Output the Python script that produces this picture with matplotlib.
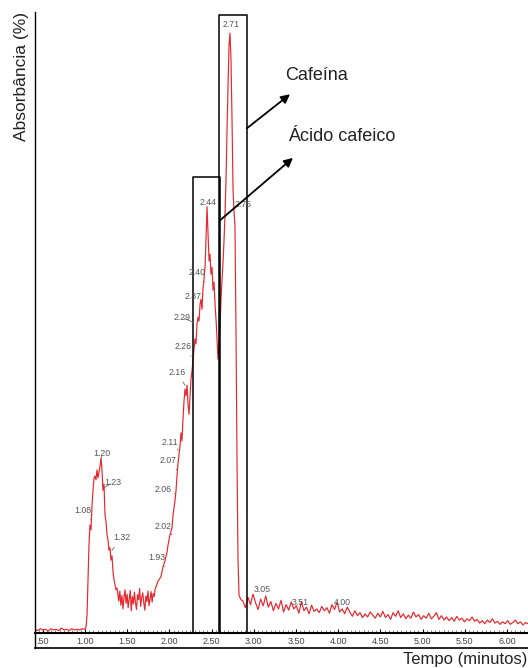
# chromatogram: absorbance vs retention time, with caffeine / caffeic acid boxes
import numpy as np
import matplotlib.pyplot as plt
from matplotlib.ticker import MultipleLocator

plt.rcParams['font.family'] = ['Liberation Sans', 'DejaVu Sans']

# %% data (time in minutes, absorbance in %)
# flat baseline before injection front
t_base = np.linspace(0.41, 1.00, 20)
v_base = [0.6, 0.4, 0.7, 0.5, 0.6, 0.3, 0.7, 0.5, 0.6, 0.4,
          0.8, 0.5, 0.6, 0.4, 0.7, 0.5, 0.6, 0.5, 0.7, 0.6]

# first hump (1.08 - 1.32)
t_hump = [1.012, 1.024, 1.036, 1.047, 1.059, 1.071, 1.083, 1.095, 1.107, 1.118,
          1.130, 1.142, 1.154, 1.166, 1.178, 1.190, 1.201, 1.213, 1.225, 1.237,
          1.249, 1.261, 1.273, 1.284, 1.296, 1.308, 1.320, 1.332, 1.344, 1.355,
          1.367, 1.379, 1.391]
v_hump = [1.0, 2.9, 8.6, 14.2, 17.5, 16.7, 20.7, 23.1, 25.1, 25.4,
          24.8, 26.4, 25.1, 26.1, 27.0, 28.3, 26.4, 23.1, 24.1, 19.1,
          18.0, 15.9, 15.0, 13.4, 13.8, 11.8, 12.5, 9.9, 8.6, 7.8,
          7.0, 7.3, 6.1]

# noisy valley between the two groups
t_valley = np.linspace(1.40, 1.82, 35)
v_valley = [5.2, 6.8, 4.5, 6.1, 3.9, 5.7, 7.0, 4.8, 6.3, 4.1,
            5.5, 6.9, 3.6, 5.9, 4.7, 6.6, 5.0, 3.8, 6.2, 5.4,
            7.2, 4.3, 5.8, 6.5, 4.9, 3.7, 6.0, 5.1, 6.8, 4.4,
            5.6, 6.7, 5.0, 6.4, 5.9]

# main group: rise, caffeic acid (2.44) and caffeine (2.71)
t_main = [1.829, 1.865, 1.900, 1.924, 1.948, 1.972, 1.983, 2.007, 2.031, 2.043,
          2.066, 2.078, 2.090, 2.102, 2.126, 2.137, 2.149, 2.161, 2.173, 2.185,
          2.197, 2.209, 2.220, 2.232, 2.244, 2.256, 2.268, 2.280, 2.291, 2.303,
          2.315, 2.327, 2.339, 2.351, 2.363, 2.375, 2.386, 2.398, 2.410, 2.422,
          2.434, 2.446, 2.458, 2.470, 2.481, 2.493, 2.505, 2.517, 2.529, 2.541,
          2.553, 2.564, 2.576, 2.588, 2.600, 2.612, 2.624, 2.636, 2.648, 2.659,
          2.671, 2.683, 2.695, 2.706, 2.718, 2.730, 2.742, 2.754, 2.766, 2.777,
          2.789, 2.801, 2.813, 2.825, 2.848]
v_main = [7.0, 8.4, 9.1, 10.7, 11.7, 13.1, 14.2, 15.9, 17.0, 19.1,
          21.4, 23.0, 25.4, 27.5, 30.3, 32.4, 31.1, 34.6, 37.5, 39.5,
          38.4, 40.1, 37.1, 35.4, 38.2, 41.1, 42.4, 44.3, 45.9, 47.6,
          46.8, 50.0, 51.1, 50.5, 53.2, 54.0, 52.4, 55.6, 57.3, 59.2,
          63.8, 69.0, 64.6, 60.2, 61.3, 58.1, 59.2, 55.5, 56.8, 53.1,
          50.7, 47.6, 44.3, 46.8, 50.0, 54.0, 57.3, 60.2, 63.8, 67.8,
          73.5, 81.6, 88.8, 95.1, 97.1, 92.7, 83.0, 71.7, 68.1, 66.0,
          49.0, 28.0, 11.8, 6.1, 5.4]

# decaying tail after caffeine
v_tail = [5.2, 4.1, 5.8, 4.6, 6.3, 4.9, 3.8, 5.5, 4.4, 6.0, 4.2, 5.1,
          3.6, 4.8, 3.9, 5.3, 3.4, 4.6, 3.7, 5.0, 3.9, 4.4,
          3.2, 5.1, 3.6, 4.2, 3.1, 4.5, 3.5, 3.9, 3.3, 4.3,
          3.6, 4.1, 3.2, 4.6, 3.8, 5.0, 3.4, 3.9, 3.1, 4.2,
          3.4, 2.7, 3.6, 2.8, 3.3, 2.5, 3.1, 2.6, 3.4, 2.9,
          2.4, 3.2, 2.6, 3.5, 2.5, 3.0, 2.2, 3.3, 2.7, 3.6,
          2.5, 3.1, 2.3, 2.9, 2.4, 3.4, 2.6, 3.0, 2.2, 2.8,
          2.4, 3.2, 2.3, 2.7, 3.3, 2.2, 2.8, 2.1, 2.6, 2.0,
          2.5, 1.9, 2.7, 2.1, 2.4, 1.8, 2.3, 2.0, 2.6, 1.9,
          2.2, 1.6, 2.0, 1.5, 2.1, 1.7, 2.3, 1.6, 1.9, 1.4,
          1.8, 1.5, 2.0, 1.4, 1.7, 2.1, 1.5, 1.8, 1.3, 1.7, 1.5]
t_tail = np.linspace(2.87, 6.25, len(v_tail))

# retention-time labels: (text, label position, point on trace or None)
peak_labels = [
    ('1.08', (0.976, 19.9), (1.071, 18.3)),
    ('1.20', (1.201, 29.1), (1.190, 28.0)),
    ('1.23', (1.332, 24.4), (1.225, 23.5)),
    ('1.32', (1.438, 15.4), (1.320, 13.4)),
    ('1.93', (1.853, 12.3), (1.948, 10.7)),
    ('2.02', (1.924, 17.3), (2.031, 15.9)),
    ('2.06', (1.924, 23.3), (2.066, 22.5)),
    ('2.07', (1.983, 28.0), (2.090, 26.4)),
    ('2.11', (2.007, 30.9), (2.102, 29.6)),
    ('2.16', (2.090, 42.2), (2.185, 40.1)),
    ('2.26', (2.161, 46.4), (2.256, 44.8)),
    ('2.29', (2.149, 51.1), (2.280, 50.3)),
    ('2.37', (2.280, 54.4), (2.398, 52.9)),
    ('2.40', (2.327, 58.4), (2.422, 56.8)),
    ('2.44', (2.457, 69.7), None),
    ('2.71', (2.730, 98.5), None),
    ('2.75', (2.872, 69.3), None),
    ('3.05', (3.097, 7.0), None),
    ('3.51', (3.547, 4.9), None),
    ('4.00', (4.045, 5.0), None),
]

# highlight boxes: (t_left, t_right, top)
boxes = [(2.280, 2.600, 73.8), (2.588, 2.919, 100.1)]

x_ticks = [0.5, 1.0, 1.5, 2.0, 2.5, 3.0, 3.5, 4.0, 4.5, 5.0, 5.5, 6.0]
x_ticklabels = ['.50', '1.00', '1.50', '2.00', '2.50', '3.00', '3.50',
                '4.00', '4.50', '5.00', '5.50', '6.00']

t_all = np.concatenate([t_base, t_hump, t_valley, t_main, t_tail])
v_all = np.concatenate([v_base, v_hump, v_valley, v_main, v_tail])

# %% figure
fig = plt.figure(figsize=(5.28, 6.68), dpi=100)
ax = fig.add_axes([0.0663, 0.0299, 0.9337, 0.952])
ax.plot(t_all, v_all, color='#e8262d', lw=0.85)

ax.set_xlim(0.4076, 6.249)
ax.set_ylim(-2.43, 100.5)

for t0, t1, top in boxes:
    ax.plot([t0, t0, t1, t1], [0, top, top, 0], color='black', lw=1.1)

for txt, pos, pt in peak_labels:
    if pt is None:
        ax.text(pos[0], pos[1], txt, fontsize=6.3, color='#555555',
                ha='center', va='center')
    else:
        ax.annotate(txt, xy=pt, xytext=pos, fontsize=6.3, color='#555555',
                    ha='center', va='center',
                    arrowprops=dict(arrowstyle='-', color='#666666', lw=0.6,
                                    shrinkA=2, shrinkB=0))

arrow = dict(arrowstyle='-|>', color='black', lw=1.3, mutation_scale=13,
             shrinkA=0, shrinkB=0)
ax.annotate('', xy=(3.429, 87.2), xytext=(2.919, 81.7), arrowprops=arrow)
ax.annotate('', xy=(3.464, 76.9), xytext=(2.600, 66.8), arrowprops=arrow)
ax.text(3.370, 90.3, 'Cafeína', fontsize=13, color='#222222', va='center')
ax.text(3.405, 80.3, 'Ácido cafeico', fontsize=13, color='#222222',
        va='center')

# axes: left line, bottom band with tick labels, ruler line at 0
for s in ['top', 'right']:
    ax.spines[s].set_visible(False)
ax.spines['left'].set_linewidth(1.0)
ax.spines['bottom'].set_linewidth(1.2)
ax.set_yticks([])
ax.set_xticks(x_ticks)
ax.set_xticklabels(x_ticklabels)
ax.tick_params(axis='x', length=0, pad=-8, labelsize=6.5, labelcolor='#444444')

ruler = ax.secondary_xaxis(2.43 / 102.93)
ruler.spines['bottom'].set_linewidth(1.5)
ruler.set_xticks(x_ticks)
ruler.xaxis.set_minor_locator(MultipleLocator(0.05))
ruler.tick_params(axis='x', which='both', direction='in', labelbottom=False)
ruler.tick_params(axis='x', which='major', length=3, width=0.8)
ruler.tick_params(axis='x', which='minor', length=2, width=0.5, color='#555555')

ax.set_ylabel('Absorbância (%)', loc='top', labelpad=4, fontsize=12.5,
              color='#222222')
fig.text(0.998, 0.002, 'Tempo (minutos)', ha='right', va='bottom',
         fontsize=12, color='#222222')

fig.savefig('out.png', dpi=100)
